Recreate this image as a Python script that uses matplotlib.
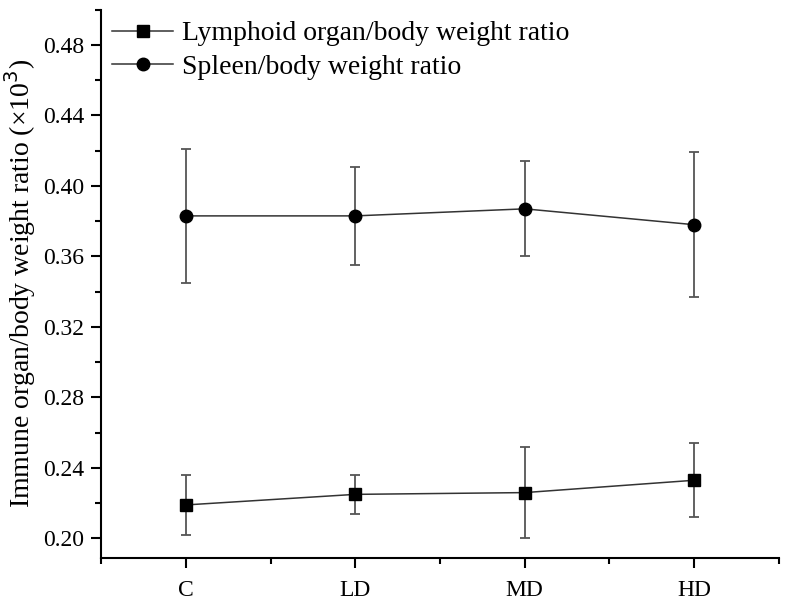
import numpy as np
import matplotlib
matplotlib.use("Agg")
from matplotlib import pyplot as plt
from matplotlib.ticker import MultipleLocator

# groups on the x axis
groups = ['C', 'LD', 'MD', 'HD']

# lymphoid organ / body weight ratio (x10^3), mean and sd
lymph_mean = [0.219, 0.225, 0.226, 0.233]
lymph_sd = [0.017, 0.011, 0.026, 0.021]

# spleen / body weight ratio (x10^3), mean and sd
spleen_mean = [0.383, 0.383, 0.387, 0.378]
spleen_sd = [0.038, 0.028, 0.027, 0.041]

plt.rcParams['font.family'] = ['Liberation Serif', 'DejaVu Serif']

fig = plt.figure(figsize=(7.9, 6.05), dpi=100)
ax = fig.add_axes([0.128, 0.078, 0.858, 0.906])

x = np.arange(1, len(groups) + 1)

# error bars and lines
ax.errorbar(x, lymph_mean, yerr=lymph_sd, fmt='none', ecolor='#555555',
            elinewidth=1.3, capsize=3.5, capthick=1.3, zorder=2)
ax.errorbar(x, spleen_mean, yerr=spleen_sd, fmt='none', ecolor='#555555',
            elinewidth=1.3, capsize=3.5, capthick=1.3, zorder=2)
ax.plot(x, lymph_mean, color='#333333', lw=1.1, marker='s', ms=8.5,
        mfc='black', mec='black', label='Lymphoid organ/body weight ratio', zorder=3)
ax.plot(x, spleen_mean, color='#333333', lw=1.1, marker='o', ms=9,
        mfc='black', mec='black', label='Spleen/body weight ratio', zorder=3)

ax.set_xlim(0.5, 4.5)
ax.set_ylim(0.189, 0.50)
ax.set_xticks(x)
ax.set_xticklabels(groups)
ax.set_xticks(np.arange(0.5, 4.6, 1.0), minor=True)
ax.set_yticks(np.arange(0.20, 0.481, 0.04))
ax.yaxis.set_minor_locator(MultipleLocator(0.02))
ax.yaxis.set_major_formatter(matplotlib.ticker.FormatStrFormatter('%.2f'))

ax.spines['top'].set_visible(False)
ax.spines['right'].set_visible(False)
for s in ['left', 'bottom']:
    ax.spines[s].set_linewidth(1.5)

ax.tick_params(which='major', direction='out', length=7, width=1.5, labelsize=17, pad=5)
ax.tick_params(which='minor', direction='out', length=4, width=1.5)
ax.tick_params(axis='x', pad=9)

ax.set_ylabel('Immune organ/body weight ratio (×10$^3$)', fontsize=20, labelpad=4)

ax.legend(loc='upper left', frameon=False, fontsize=20, handlelength=2.2,
          handletextpad=0.3, labelspacing=0.3, borderaxespad=0.0,
          bbox_to_anchor=(0.0, 1.0))

fig.savefig('out.png', dpi=100)
